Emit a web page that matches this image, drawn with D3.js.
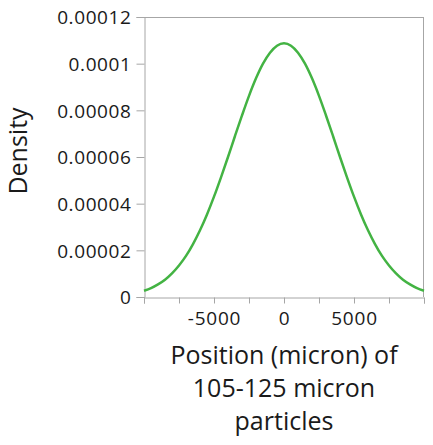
<!DOCTYPE html>
<html>
<head>
<meta charset="utf-8">
<script src="https://cdn.jsdelivr.net/npm/d3@7"></script>
<style>
  html, body { margin: 0; padding: 0; background: #fff; }
  svg { display: block; }
  text { font-family: "Open Sans", sans-serif; fill: #1a1a1a; }
</style>
</head>
<body>
<svg id="chart" width="433" height="445"></svg>
<script>
// Data: position (micron) and density
const positions = [-10000,-9500,-9000,-8500,-8000,-7500,-7000,-6500,-6000,-5500,-5000,-4500,-4000,-3500,-3000,-2500,-2000,-1500,-1000,-500,
  0,500,1000,1500,2000,2500,3000,3500,4000,4500,5000,5500,6000,6500,7000,7500,8000,8500,9000,9500,10000];
const densities = [2.7e-6,3.8e-6,5.4e-6,7.4e-6,10.1e-6,13.5e-6,17.6e-6,22.7e-6,28.6e-6,35.4e-6,43.0e-6,51.3e-6,60.0e-6,69.0e-6,77.8e-6,86.2e-6,93.7e-6,100.0e-6,104.7e-6,107.7e-6,
  108.7e-6,107.7e-6,104.7e-6,100.0e-6,93.7e-6,86.2e-6,77.8e-6,69.0e-6,60.0e-6,51.3e-6,43.0e-6,35.4e-6,28.6e-6,22.7e-6,17.6e-6,13.5e-6,10.1e-6,7.4e-6,5.4e-6,3.8e-6,2.7e-6];
const xTicks = [-10000,-7500,-5000,-2500,0,2500,5000,7500,10000];
const xTickLabels = {"-5000":"-5000","0":"0","5000":"5000"};
const yTicks = [0,0.00002,0.00004,0.00006,0.00008,0.0001,0.00012];
const yTickLabels = ["0","0.00002","0.00004","0.00006","0.00008","0.0001","0.00012"];
const xTitleLines = ["Position (micron) of","105-125 micron","particles"];
const yTitle = "Density";

const svg = d3.select("#chart");
const L = 144, R = 424, T = 17, B = 297;
const x = d3.scaleLinear().domain([-10000,10000]).range([L,R]);
const y = d3.scaleLinear().domain([0,0.00012]).range([B,T]);
const axisColor = "#a6a6a6";

// frame (top & right)
svg.append("line").attr("x1",L).attr("x2",R).attr("y1",T+0.5).attr("y2",T+0.5).attr("stroke",axisColor);
svg.append("line").attr("x1",R-0.5).attr("x2",R-0.5).attr("y1",T).attr("y2",B).attr("stroke",axisColor);

// y axis
const yAxis = d3.axisLeft(y).tickValues(yTicks).tickSize(8).tickPadding(5)
  .tickFormat((d,i)=>yTickLabels[i]);
const gy = svg.append("g").attr("transform",`translate(${L+0.5},0)`).call(yAxis);
gy.select(".domain").attr("stroke",axisColor);
gy.selectAll(".tick line").attr("stroke",axisColor);
gy.selectAll(".tick text").style("font-size","19px").attr("fill","#1a1a1a").style("letter-spacing","0.6px").attr("dy","0.36em");

// x axis
const xAxis = d3.axisBottom(x).tickValues(xTicks).tickSize(6).tickPadding(8)
  .tickFormat(d => xTickLabels[String(d)] || "");
const gx = svg.append("g").attr("transform",`translate(0,${B+0.5})`).call(xAxis);
gx.select(".domain").attr("stroke",axisColor);
gx.selectAll(".tick line").attr("stroke",axisColor);
gx.selectAll(".tick text").style("font-size","19px").attr("fill","#1a1a1a").style("letter-spacing","0.8px");

// curve
const pts = positions.map((p,i)=>[p,densities[i]]);
svg.append("path").datum(pts)
  .attr("fill","none").attr("stroke","#43b343").attr("stroke-width",2.5)
  .attr("d", d3.line().x(d=>x(d[0])).y(d=>y(d[1])).curve(d3.curveMonotoneX));

// titles
const xt = svg.append("text").attr("text-anchor","middle").style("font-size","25px");
xTitleLines.forEach((t,i)=>{
  xt.append("tspan").attr("x",(L+R)/2).attr("y",364+i*33).text(t);
});
svg.append("text").attr("text-anchor","middle").style("font-size","25px")
  .attr("transform",`translate(27,151) rotate(-90)`).text(yTitle);
</script>
</body>
</html>
